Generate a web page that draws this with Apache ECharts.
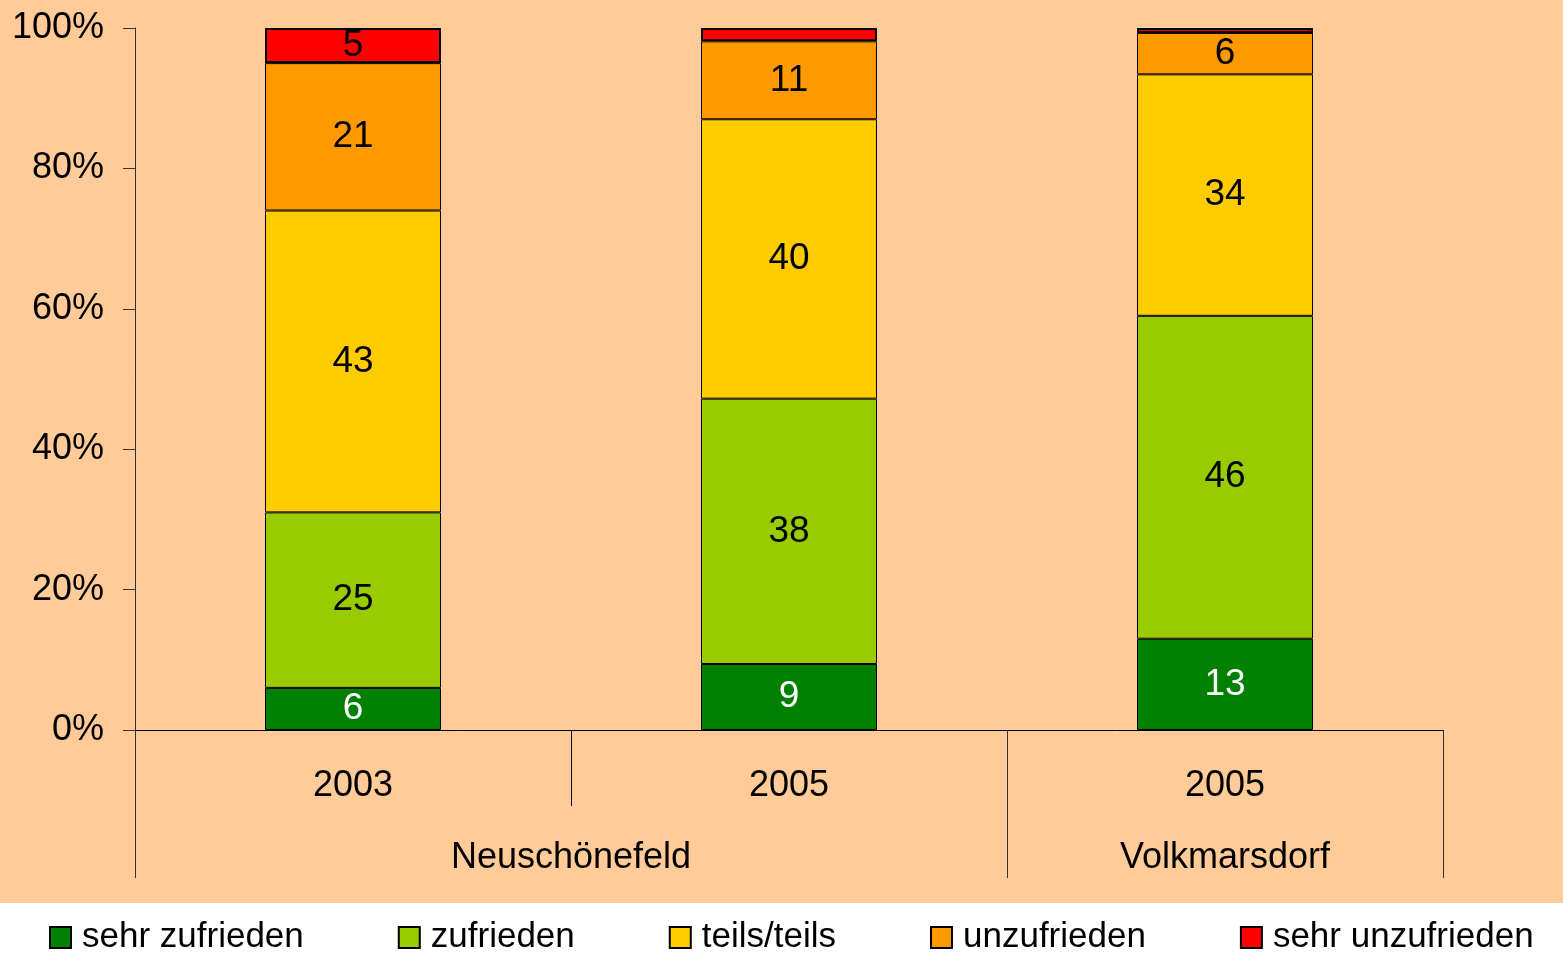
<!DOCTYPE html>
<html>
<head>
<meta charset="utf-8">
<script src="https://cdn.jsdelivr.net/npm/echarts@6/dist/echarts.min.js"></script>
<style>
  html, body { margin: 0; padding: 0; }
  #chart {
    width: 1563px;
    height: 957px;
    background: linear-gradient(#ffcc99 0, #ffcc99 903px, #ffffff 903px);
  }
</style>
</head>
<body>
<div id="chart"></div>
<script>
// Zufriedenheit, Anteile in % je Befragung
const years = ["2003", "2005", "2005"]
const districts = ["", "", "Neuschönefeld", "", "", "Volkmarsdorf", ""]
const sehrZufrieden = [6, 9.4, 13]
const zufrieden = [25, 37.8, 46]
const teilsTeils = [43, 39.8, 34.4]
const unzufrieden = [21, 11.1, 5.9]
const sehrUnzufrieden = [5, 1.9, 0.7]
const yTicks = [0, 20, 40, 60, 80, 100]

const font = "'Liberation Sans', Arial, sans-serif"

const chart = echarts.init(document.getElementById("chart"), null, { renderer: "canvas" })

const seg = (name, data, color, textColor, border) => ({
  name,
  type: "bar",
  stack: "total",
  data,
  barWidth: 176,
  itemStyle: { color, borderColor: "#000", borderWidth: border },
  label: {
    show: true,
    position: "inside",
    fontFamily: font,
    fontSize: 37,
    color: textColor,
    formatter: (p) => (p.value < 3 ? "" : Math.round(p.value)),
  },
})

chart.setOption({
  animation: false,
  backgroundColor: "transparent",
  textStyle: { fontFamily: font },
  grid: { left: 135, right: 120, top: 28, bottom: 227 },
  legend: {
    left: 49,
    top: 920,
    padding: 0,
    icon: "rect",
    itemWidth: 21,
    itemHeight: 21,
    itemGap: 94,
    textStyle: { fontFamily: font, fontSize: 35, color: "#000", padding: [0, 0, 0, 6] },
  },
  xAxis: [
    {
      type: "category",
      data: years,
      position: "bottom",
      axisLine: { lineStyle: { color: "#000", width: 1 } },
      axisTick: { show: true, length: 76, lineStyle: { color: "#000" } },
      axisLabel: { fontSize: 36, color: "#000", margin: 38, fontFamily: font },
    },
    {
      type: "category",
      data: districts,
      position: "bottom",
      boundaryGap: false,
      axisLine: { show: false },
      axisTick: {
        show: true,
        length: 148,
        interval: (i) => i === 0 || i === 4 || i === 6,
        lineStyle: { color: "#333" },
      },
      axisLabel: { interval: 0, fontSize: 36, color: "#000", margin: 110, fontFamily: font },
    },
  ],
  yAxis: {
    type: "value",
    min: yTicks[0],
    max: yTicks[yTicks.length - 1],
    interval: 20,
    axisLine: { show: true, lineStyle: { color: "#333" } },
    axisTick: { show: true, inside: false, length: 12, lineStyle: { color: "#333" } },
    splitLine: { show: false },
    axisLabel: { formatter: "{value}%", fontSize: 36, color: "#000", margin: 31, fontFamily: font },
  },
  series: [
    seg("sehr zufrieden", sehrZufrieden, "#008000", "#fff", 1),
    seg("zufrieden", zufrieden, "#99cc00", "#000", 1),
    seg("teils/teils", teilsTeils, "#ffcc00", "#000", 1),
    seg("unzufrieden", unzufrieden, "#ff9900", "#000", 1),
    seg("sehr unzufrieden", sehrUnzufrieden, "#ff0000", "#000", 2),
  ],
})
</script>
</body>
</html>
